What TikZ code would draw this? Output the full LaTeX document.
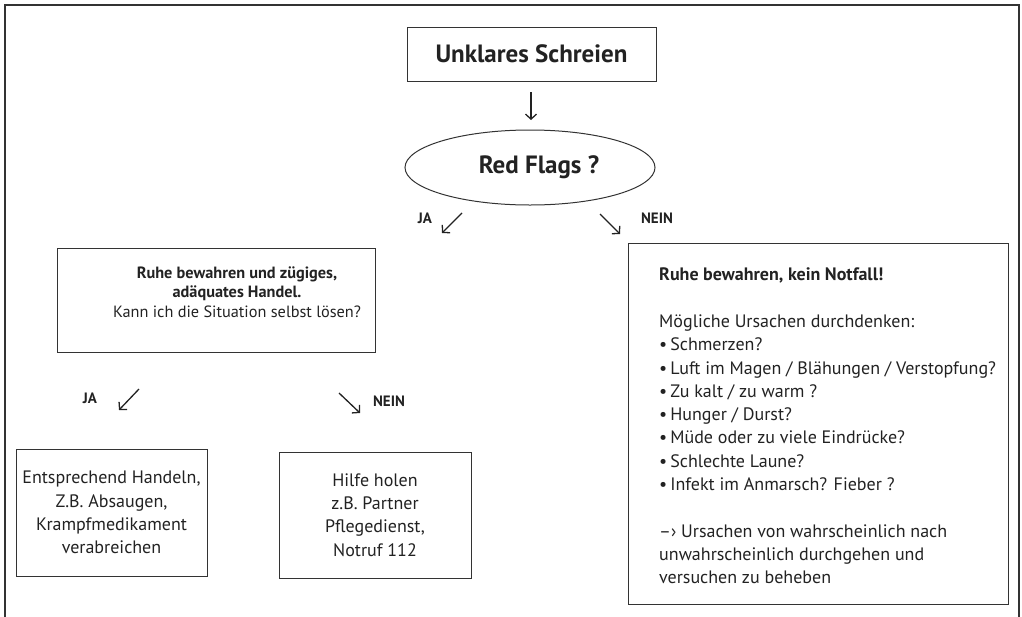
\documentclass[tikz,border=0pt]{standalone}
\usepackage{fontspec}
\setmainfont{PT Sans}
\usetikzlibrary{shapes.geometric,arrows.meta}
\definecolor{ink}{HTML}{222222}
\definecolor{edge}{HTML}{333333}
\begin{document}
\begin{tikzpicture}[x=1pt,y=-1pt,
  box/.style={draw=edge, line width=1pt, rectangle, inner sep=0pt},
  body/.style={text=ink, inner sep=0pt, align=center, font=\fontsize{18}{23.3}\selectfont},
  head/.style={text=ink, inner sep=0pt, font=\bfseries\fontsize{25}{28}\selectfont},
  lbl/.style={text=ink, inner sep=0pt, font=\bfseries\fontsize{15}{18}\selectfont},
  arw/.style={draw=ink, line width=1.3pt, -{Straight Barb[length=5pt,width=11pt]}}]
\useasboundingbox (0,0) rectangle (1022,616);
% outer frame
\draw[edge, line width=1.2pt] (5,620) -- (5,5) -- (1019,5) -- (1019,620);
% title
\node[box, head, minimum width=249, minimum height=54] (title) at (531.5,54) {Unklares Schreien};
\coordinate (d1s) at (531,92);
\coordinate (d1e) at (531,120);
\draw[arw] (d1s) -- (d1e);
% ellipse
\node[draw=edge, line width=1pt, ellipse, minimum width=250, minimum height=75, inner sep=0pt] (rf) at (530,167.5) {};
\node[head] (rftext) at (539,167) {Red Flags ?};
% first branch labels
\node[lbl] (ja1) at (425,218) {JA};
\coordinate (j1s) at (462,213);
\coordinate (j1e) at (442,233);
\draw[arw] (j1s) -- (j1e);
\coordinate (n1s) at (600,214);
\coordinate (n1e) at (620,234);
\draw[arw] (n1s) -- (n1e);
\node[lbl] (nein1) at (657,218) {NEIN};
% left box
\node[box, minimum width=318, minimum height=104] (lbox) at (216,300) {};
\node[body, font=\fontsize{16.3}{19.5}\selectfont] (ltext) at (237,292)
  {\textbf{Ruhe bewahren und zügiges,}\\ \textbf{adäquates Handel.}\\ Kann ich die Situation selbst lösen?};
% second branch labels
\node[lbl] (ja2) at (90,398) {JA};
\coordinate (j2s) at (139,389);
\coordinate (j2e) at (119,410);
\draw[arw] (j2s) -- (j2e);
\coordinate (n2s) at (339,393);
\coordinate (n2e) at (360,413);
\draw[arw] (n2s) -- (n2e);
\node[lbl] (nein2) at (389,401) {NEIN};
% bottom boxes
\node[box, body, minimum width=191, minimum height=127] (ebox) at (111.5,512.5)
  {Entsprechend Handeln,\\ Z.B. Absaugen,\\ Krampfmedikament\\ verabreichen};
\node[box, body, minimum width=192, minimum height=126] (hbox) at (375,515)
  {Hilfe holen\\ z.B. Partner\\ Pflegedienst,\\ Notruf 112};
% right box
\node[box, minimum width=380, minimum height=361] (rbox) at (818,423.5) {};
\node[body, align=left, anchor=west] (rtext) at (659,426)
  {\textbf{Ruhe bewahren, kein Notfall!}\\[23.3pt]
   Mögliche Ursachen durchdenken:\\
   •\,Schmerzen?\\
   •\,Luft im Magen / Blähungen / Verstopfung?\\
   •\,Zu kalt / zu warm ?\\
   •\,Hunger / Durst?\\
   •\,Müde oder zu viele Eindrücke?\\
   •\,Schlechte Laune?\\
   •\,Infekt im Anmarsch? Fieber ?\\[23.3pt]
   –› Ursachen von wahrscheinlich nach\\
   unwahrscheinlich durchgehen und\\
   versuchen zu beheben};
\end{tikzpicture}
\end{document}
